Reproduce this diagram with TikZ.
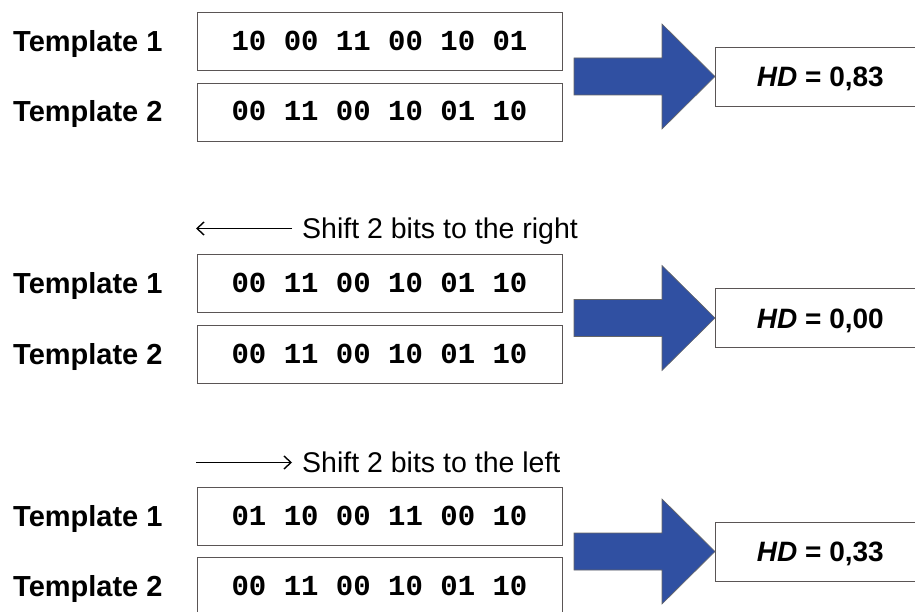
\documentclass[tikz,border=0pt]{standalone}
\usepackage{fontspec}
\setmainfont{Liberation Sans}
\setmonofont{Liberation Mono}
\usetikzlibrary{arrows.meta}
\definecolor{arrowblue}{RGB}{48,80,162}
\definecolor{boxline}{RGB}{90,85,85}
\tikzset{
	lbl/.style={font=\fontsize{29}{32}\selectfont\bfseries, anchor=west, inner sep=0pt, text height=20pt, text depth=0pt},
	bitbox/.style={draw=boxline, line width=0.8pt, minimum width=365pt, minimum height=58pt, inner sep=0pt, text height=18pt, text depth=0pt, font=\fontsize{29}{32}\selectfont\ttfamily\bfseries},
	hdbox/.style={draw=boxline, line width=0.8pt, anchor=west, minimum width=210pt, minimum height=59pt, inner sep=0pt, text height=20pt, text depth=0pt, font=\fontsize{28}{32}\selectfont\bfseries},
	shifttxt/.style={anchor=west, inner xsep=10pt, inner ysep=0pt, text height=20pt, text depth=0pt, font=\fontsize{28.5}{32}\selectfont},
	thinarrow/.style={-{Straight Barb[length=7pt,width=13pt]}, line width=1.4pt},
	bigarrow/.style={fill=arrowblue, draw=black!60, line width=0.6pt}
}
\begin{document}
\begin{tikzpicture}[x=1pt,y=-1pt]
		\useasboundingbox (0,0) rectangle (915,612);
		% Uten forskyvning
		\node[lbl] (lab1a) at (13,41.5) {Template 1};
		\node[lbl] (lab1b) at (13,112) {Template 2};
		\node[bitbox] (bits1a) at (379.5,41.5) {10 00 11 00 10 01};
		\node[bitbox] (bits1b) at (379.5,112) {00 11 00 10 01 10};
		\node[hdbox] (hd1) at (715,76.5) {\textit{HD} = 0,83};
		\draw[bigarrow] (hd1.west) -- ++(-53,-52.5) -- ++(0,34) -- ++(-88,0) -- ++(0,37) -- ++(88,0) -- ++(0,34) -- cycle;
		% Forskyvning mot høyre
		\node[shifttxt] (shiftR) at (292,228.5) {Shift 2 bits to the right};
		\coordinate (endR) at (196,228.5);
		\draw[thinarrow] (shiftR.west) -- (endR);
		\node[lbl] (lab2a) at (13,283) {Template 1};
		\node[lbl] (lab2b) at (13,354) {Template 2};
		\node[bitbox] (bits2a) at (379.5,283) {00 11 00 10 01 10};
		\node[bitbox] (bits2b) at (379.5,354) {00 11 00 10 01 10};
		\node[hdbox] (hd2) at (715,318) {\textit{HD} = 0,00};
		\draw[bigarrow] (hd2.west) -- ++(-53,-52.5) -- ++(0,34) -- ++(-88,0) -- ++(0,37) -- ++(88,0) -- ++(0,34) -- cycle;
		% Forskyvning mot venstre
		\node[shifttxt] (shiftL) at (292,462.5) {Shift 2 bits to the left};
		\coordinate (startL) at (196,462.5);
		\draw[thinarrow] (startL) -- (shiftL.west);
		\node[lbl] (lab3a) at (13,516) {Template 1};
		\node[lbl] (lab3b) at (13,586) {Template 2};
		\node[bitbox] (bits3a) at (379.5,516) {01 10 00 11 00 10};
		\node[bitbox] (bits3b) at (379.5,586) {00 11 00 10 01 10};
		\node[hdbox] (hd3) at (715,551.5) {\textit{HD} = 0,33};
		\draw[bigarrow] (hd3.west) -- ++(-53,-52.5) -- ++(0,34) -- ++(-88,0) -- ++(0,37) -- ++(88,0) -- ++(0,34) -- cycle;
	\end{tikzpicture}
\end{document}
